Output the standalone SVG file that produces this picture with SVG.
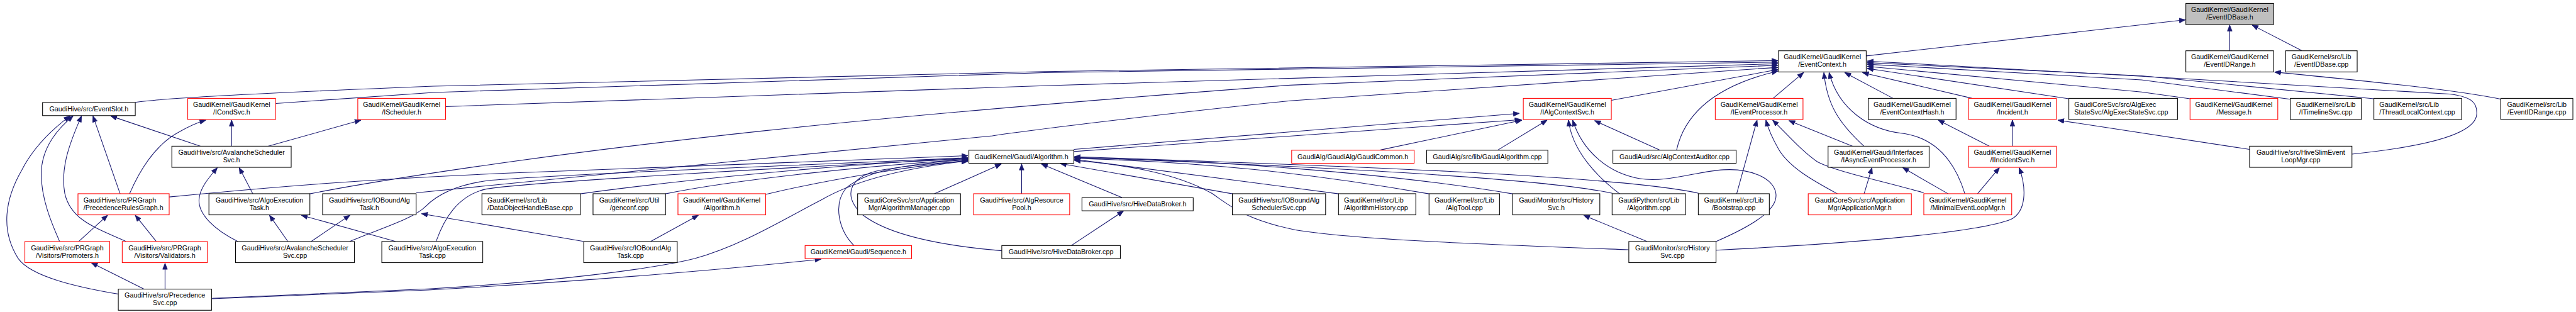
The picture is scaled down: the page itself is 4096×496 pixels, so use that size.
<svg xmlns="http://www.w3.org/2000/svg" width="4096" height="496" viewBox="0 0 4096 496">
<style>
.node rect{fill:#fff;stroke:#000;stroke-width:1.3}
.red rect{stroke:#f00}
.root rect{fill:#bfbfbf}
text{font-family:"Liberation Sans",Arial,Helvetica,sans-serif;font-size:13px;fill:#000;text-anchor:middle}
.L text{text-anchor:start}
.edges path{fill:none;stroke:#191970;stroke-width:1.3;marker-end:url(#ah)}
</style>
<defs>
<marker id="ah" markerUnits="userSpaceOnUse" markerWidth="13" markerHeight="11" refX="12" refY="5" orient="auto" viewBox="0 0 13 11"><path d="M0.5,0.5 L12,5 L0.5,9.5 z" fill="#191970" stroke="#191970" stroke-width="1"/></marker>
</defs>
<rect x="0" y="0" width="4096" height="496" fill="#fff"/>
<g transform="scale(0.8305)">
<g id="edges" class="edges">
<path d="M3573,107 L4184,38"/>
<path d="M4269,97 L4269,48"/>
<path d="M4407,97 L4312,48"/>
<path d="M4789,190 C4700,172 4560,158 4355,138"/>
<path d="M259,196 C300,189 500,178 830,165 L2000,137 L3404,116"/>
<path d="M528,198 L830,177 L2000,139 L3404,119"/>
<path d="M853,204 L2000,164 L3404,122"/>
<path d="M593,371 C700,350 1000,300 1466,250 C1700,225 2000,198 2470,163 L3404,125"/>
<path d="M797,369 L1900,260 C2000,245 2300,210 2470,193 L3404,129"/>
<path d="M3085,192 L3404,133"/>
<path d="M3210,287 C3225,220 3280,165 3404,136"/>
<path d="M3395,188 L3453,139"/>
<path d="M3569,280 C3520,235 3498,200 3492,139"/>
<path d="M3762,371 C3740,300 3700,262 3640,255 C3580,248 3520,210 3502,139"/>
<path d="M3624,188 L3532,139"/>
<path d="M3775,188 L3566,139"/>
<path d="M3961,189 L3575,131"/>
<path d="M4193,189 L4100,176 L3575,127"/>
<path d="M4385,190 L4100,153 L3575,123"/>
<path d="M4545,189 L4100,145 L3575,120"/>
<path d="M4503,295 C4600,285 4740,265 4742,218 C4743,195 4730,185 4690,180 L4100,146 L3575,117"/>
<path d="M384,280 L212,222"/>
<path d="M230,371 L178,222"/>
<path d="M241,462 C180,435 135,420 124,370 C115,320 135,270 156,222"/>
<path d="M114,462 C100,430 78,380 79,330 C80,290 100,255 140,222"/>
<path d="M227,563 C150,550 60,530 35,495 C0,440 10,380 42,325 C60,290 90,255 134,222"/>
<path d="M443.5,280 L443.5,230"/>
<path d="M248,371 C270,320 300,275 344,252 C365,240 380,234 394,230"/>
<path d="M513,280 L691,230"/>
<path d="M455,462 C410,440 380,410 381,383 C382,360 400,340 416,321"/>
<path d="M484,371 L458,321"/>
<path d="M151,462 L206,412"/>
<path d="M299,462 L259,412"/>
<path d="M275,553 L175,503"/>
<path d="M316,553 L316,504"/>
<path d="M551,462 L516,412"/>
<path d="M757,462 L577,412"/>
<path d="M596,462 L670,412"/>
<path d="M1117,462 L807,409"/>
<path d="M1246,462 L1337,412"/>
<path d="M405,572 L820,555 C1100,540 1400,515 1572,496"/>
<path d="M405,571 L820,553 C1050,540 1250,515 1330,495 C1420,470 1500,420 1572,383 C1620,355 1700,325 1853,308"/>
<path d="M1635,470 C1605,440 1595,390 1620,360 C1660,325 1750,312 1853,306"/>
<path d="M1918,480 C1800,470 1700,450 1650,410 C1610,370 1630,335 1690,325 C1750,315 1800,311 1853,309"/>
<path d="M670,462 C720,440 790,420 815,395 C840,370 880,352 940,345 C1100,332 1500,318 1853,302"/>
<path d="M835,462 C850,420 875,375 930,362 C1000,350 1500,320 1853,304"/>
<path d="M324,377 C500,360 700,342 1010,330 L1853,298"/>
<path d="M1111,371 C1300,345 1600,315 1853,303"/>
<path d="M1274,371 C1400,345 1650,318 1853,305"/>
<path d="M1466,372 C1600,340 1750,318 1853,307"/>
<path d="M1789,371 L1917,314"/>
<path d="M1956,371 L1956,314"/>
<path d="M2148,378 L1994,314"/>
<path d="M2360,371 L2030,313"/>
<path d="M2563,371 L2057,305"/>
<path d="M2736,371 C2500,330 2300,310 2057,303"/>
<path d="M2896,371 C2650,330 2300,305 2057,302"/>
<path d="M3087,370 C2950,340 2500,318 2057,301"/>
<path d="M3252,370 C3100,335 2500,315 2057,300"/>
<path d="M3118,478 C2900,470 2600,460 2480,440 C2380,420 2350,390 2320,370 C2250,330 2150,315 2057,307"/>
<path d="M2056,286 L2909,217"/>
<path d="M2056,290 L2912,229"/>
<path d="M2643,287 L2914,230"/>
<path d="M2868,287 L2962,230"/>
<path d="M3101,371 C3060,340 3010,290 3003,230"/>
<path d="M3286,462 C3360,430 3405,400 3400,370 C3395,340 3350,322 3300,325 C3250,328 3190,350 3140,342 C3080,332 3030,290 3011,230"/>
<path d="M3177,287 L3053,231"/>
<path d="M3325,371 L3364,230"/>
<path d="M3518,371 C3470,345 3425,320 3405,285 C3392,262 3385,245 3381,230"/>
<path d="M3683,369 C3600,345 3520,330 3480,310 C3450,290 3420,255 3394,230"/>
<path d="M3547,280 L3425,231"/>
<path d="M3569,371 L3584,321"/>
<path d="M3730,371 L3643,321"/>
<path d="M3786,371 L3828,321"/>
<path d="M3286,479 C3500,468 3780,448 3850,420 C3880,405 3880,360 3866,321"/>
<path d="M3853,280 L3853,230"/>
<path d="M3809,280 L3711,230"/>
<path d="M4307,286 L3940,230"/>
<path d="M3153,462 L3032,412"/>
<path d="M2051,470 L2151,404"/>
</g>
<g id="n_root" class="node root"><rect x="4185" y="6.5" width="168" height="40.5"/><text x="4269" y="23">GaudiKernel/GaudiKernel</text><text x="4269" y="37.5">/EventIDBase.h</text></g>
<g id="n_ctx" class="node"><rect x="3405" y="97.2" width="168" height="40.5"/><text x="3489" y="113.7">GaudiKernel/GaudiKernel</text><text x="3489" y="128.2">/EventContext.h</text></g>
<g id="n_rng" class="node"><rect x="4185" y="97.2" width="168" height="40.5"/><text x="4269" y="113.7">GaudiKernel/GaudiKernel</text><text x="4269" y="128.2">/EventIDRange.h</text></g>
<g id="n_basecpp" class="node"><rect x="4376" y="97.2" width="137" height="40.5"/><text x="4444.5" y="113.7">GaudiKernel/src/Lib</text><text x="4444.5" y="128.2">/EventIDBase.cpp</text></g>
<g id="n_slot" class="node"><rect x="81.5" y="196.3" width="177.5" height="25"/><text x="170.25" y="213.1">GaudiHive/src/EventSlot.h</text></g>
<g id="n_cond" class="node red"><rect x="359.5" y="188.3" width="168" height="40.5"/><text x="443.5" y="204.8">GaudiKernel/GaudiKernel</text><text x="443.5" y="219.3">/ICondSvc.h</text></g>
<g id="n_sched" class="node red"><rect x="685" y="188.3" width="168" height="40.5"/><text x="769" y="204.8">GaudiKernel/GaudiKernel</text><text x="769" y="219.3">/IScheduler.h</text></g>
<g id="n_ialgctx" class="node red"><rect x="2916.5" y="188.3" width="168.5" height="40.5"/><text x="3000.75" y="204.8">GaudiKernel/GaudiKernel</text><text x="3000.75" y="219.3">/IAlgContextSvc.h</text></g>
<g id="n_ievp" class="node red"><rect x="3284" y="188.3" width="168" height="40.5"/><text x="3368" y="204.8">GaudiKernel/GaudiKernel</text><text x="3368" y="219.3">/IEventProcessor.h</text></g>
<g id="n_ctxhash" class="node"><rect x="3577" y="188.3" width="168" height="40.5"/><text x="3661" y="204.8">GaudiKernel/GaudiKernel</text><text x="3661" y="219.3">/EventContextHash.h</text></g>
<g id="n_inc" class="node red"><rect x="3769" y="188.3" width="168" height="40.5"/><text x="3853" y="204.8">GaudiKernel/GaudiKernel</text><text x="3853" y="219.3">/Incident.h</text></g>
<g id="n_aess" class="node L"><rect x="3961" y="188.3" width="208" height="40.5"/><text x="3971.5" y="204.8">GaudiCoreSvc/src/AlgExec</text><text x="3971.5" y="219.3">StateSvc/AlgExecStateSvc.cpp</text></g>
<g id="n_msg" class="node red"><rect x="4193" y="188.3" width="168" height="40.5"/><text x="4277" y="204.8">GaudiKernel/GaudiKernel</text><text x="4277" y="219.3">/Message.h</text></g>
<g id="n_tl" class="node"><rect x="4385" y="188.3" width="136" height="40.5"/><text x="4453" y="204.8">GaudiKernel/src/Lib</text><text x="4453" y="219.3">/ITimelineSvc.cpp</text></g>
<g id="n_tlc" class="node L"><rect x="4545" y="188.3" width="168" height="40.5"/><text x="4555.5" y="204.8">GaudiKernel/src/Lib</text><text x="4555.5" y="219.3">/ThreadLocalContext.cpp</text></g>
<g id="n_rngcpp" class="node"><rect x="4788" y="188.3" width="138" height="40.5"/><text x="4857" y="204.8">GaudiKernel/src/Lib</text><text x="4857" y="219.3">/EventIDRange.cpp</text></g>
<g id="n_avsh" class="node"><rect x="329" y="279.8" width="228.5" height="40.5"/><text x="443.25" y="296.3">GaudiHive/src/AvalancheScheduler</text><text x="443.25" y="310.8">Svc.h</text></g>
<g id="n_galg" class="node"><rect x="1855" y="287.5" width="201" height="25"/><text x="1955.5" y="304.3">GaudiKernel/Gaudi/Algorithm.h</text></g>
<g id="n_gcommon" class="node red"><rect x="2473" y="287.5" width="234.5" height="25"/><text x="2590.25" y="304.3">GaudiAlg/GaudiAlg/GaudiCommon.h</text></g>
<g id="n_galgcpp" class="node"><rect x="2731.5" y="287.5" width="232" height="25"/><text x="2847.5" y="304.3">GaudiAlg/src/lib/GaudiAlgorithm.cpp</text></g>
<g id="n_aca" class="node"><rect x="3088" y="287.5" width="236" height="25"/><text x="3206" y="304.3">GaudiAud/src/AlgContextAuditor.cpp</text></g>
<g id="n_iaep" class="node"><rect x="3500" y="279.8" width="193.5" height="40.5"/><text x="3596.75" y="296.3">GaudiKernel/Gaudi/Interfaces</text><text x="3596.75" y="310.8">/IAsyncEventProcessor.h</text></g>
<g id="n_iis" class="node red"><rect x="3769" y="279.8" width="168" height="40.5"/><text x="3853" y="296.3">GaudiKernel/GaudiKernel</text><text x="3853" y="310.8">/IIncidentSvc.h</text></g>
<g id="n_hslim" class="node"><rect x="4307" y="279.8" width="196" height="40.5"/><text x="4405" y="296.3">GaudiHive/src/HiveSlimEvent</text><text x="4405" y="310.8">LoopMgr.cpp</text></g>
<g id="n_prg" class="node red L"><rect x="149.3" y="370.8" width="174.6" height="40.5"/><text x="159.8" y="387.3">GaudiHive/src/PRGraph</text><text x="159.8" y="401.8">/PrecedenceRulesGraph.h</text></g>
<g id="n_aeth" class="node"><rect x="400" y="370.8" width="193.3" height="40.5"/><text x="496.65" y="387.3">GaudiHive/src/AlgoExecution</text><text x="496.65" y="401.8">Task.h</text></g>
<g id="n_iobh" class="node"><rect x="617.7" y="370.8" width="179" height="40.5"/><text x="707.2" y="387.3">GaudiHive/src/IOBoundAlg</text><text x="707.2" y="401.8">Task.h</text></g>
<g id="n_dohb" class="node L"><rect x="922.7" y="370.8" width="188.4" height="40.5"/><text x="933.2" y="387.3">GaudiKernel/src/Lib</text><text x="933.2" y="401.8">/DataObjectHandleBase.cpp</text></g>
<g id="n_genconf" class="node"><rect x="1135.4" y="370.8" width="138.8" height="40.5"/><text x="1204.8" y="387.3">GaudiKernel/src/Util</text><text x="1204.8" y="401.8">/genconf.cpp</text></g>
<g id="n_gkalg" class="node red"><rect x="1298" y="370.8" width="168" height="40.5"/><text x="1382" y="387.3">GaudiKernel/GaudiKernel</text><text x="1382" y="401.8">/Algorithm.h</text></g>
<g id="n_algmgr" class="node"><rect x="1642" y="370.8" width="197" height="40.5"/><text x="1740.5" y="387.3">GaudiCoreSvc/src/Application</text><text x="1740.5" y="401.8">Mgr/AlgorithmManager.cpp</text></g>
<g id="n_arp" class="node red"><rect x="1864" y="370.8" width="184" height="40.5"/><text x="1956" y="387.3">GaudiHive/src/AlgResource</text><text x="1956" y="401.8">Pool.h</text></g>
<g id="n_hdbh" class="node"><rect x="2071.5" y="378.5" width="213" height="25"/><text x="2178" y="395.3">GaudiHive/src/HiveDataBroker.h</text></g>
<g id="n_iobsched" class="node"><rect x="2359.5" y="370.8" width="178.5" height="40.5"/><text x="2448.75" y="387.3">GaudiHive/src/IOBoundAlg</text><text x="2448.75" y="401.8">SchedulerSvc.cpp</text></g>
<g id="n_ahist" class="node L"><rect x="2562.7" y="370.8" width="148" height="40.5"/><text x="2573.2" y="387.3">GaudiKernel/src/Lib</text><text x="2573.2" y="401.8">/AlgorithmHistory.cpp</text></g>
<g id="n_algtool" class="node"><rect x="2736" y="370.8" width="135" height="40.5"/><text x="2803.5" y="387.3">GaudiKernel/src/Lib</text><text x="2803.5" y="401.8">/AlgTool.cpp</text></g>
<g id="n_hsvch" class="node"><rect x="2896" y="370.8" width="167" height="40.5"/><text x="2979.5" y="387.3">GaudiMonitor/src/History</text><text x="2979.5" y="401.8">Svc.h</text></g>
<g id="n_pyalg" class="node"><rect x="3086.5" y="370.8" width="140.5" height="40.5"/><text x="3156.75" y="387.3">GaudiPython/src/Lib</text><text x="3156.75" y="401.8">/Algorithm.cpp</text></g>
<g id="n_boot" class="node"><rect x="3251.5" y="370.8" width="136" height="40.5"/><text x="3319.5" y="387.3">GaudiKernel/src/Lib</text><text x="3319.5" y="401.8">/Bootstrap.cpp</text></g>
<g id="n_appmgr" class="node red"><rect x="3462" y="370.8" width="197.5" height="40.5"/><text x="3560.75" y="387.3">GaudiCoreSvc/src/Application</text><text x="3560.75" y="401.8">Mgr/ApplicationMgr.h</text></g>
<g id="n_melm" class="node red"><rect x="3683.3" y="370.8" width="168.3" height="40.5"/><text x="3767.45" y="387.3">GaudiKernel/GaudiKernel</text><text x="3767.45" y="401.8">/MinimalEventLoopMgr.h</text></g>
<g id="n_prom" class="node red"><rect x="47.6" y="462.3" width="162.5" height="40.5"/><text x="128.85" y="478.8">GaudiHive/src/PRGraph</text><text x="128.85" y="493.3">/Visitors/Promoters.h</text></g>
<g id="n_valid" class="node red"><rect x="234" y="462.3" width="163" height="40.5"/><text x="315.5" y="478.8">GaudiHive/src/PRGraph</text><text x="315.5" y="493.3">/Visitors/Validators.h</text></g>
<g id="n_avscpp" class="node"><rect x="451" y="462.3" width="227.6" height="40.5"/><text x="564.8" y="478.8">GaudiHive/src/AvalancheScheduler</text><text x="564.8" y="493.3">Svc.cpp</text></g>
<g id="n_aetcpp" class="node"><rect x="731" y="462.3" width="193.3" height="40.5"/><text x="827.65" y="478.8">GaudiHive/src/AlgoExecution</text><text x="827.65" y="493.3">Task.cpp</text></g>
<g id="n_iobcpp" class="node"><rect x="1117.6" y="462.3" width="179" height="40.5"/><text x="1207.1" y="478.8">GaudiHive/src/IOBoundAlg</text><text x="1207.1" y="493.3">Task.cpp</text></g>
<g id="n_seq" class="node red"><rect x="1541.4" y="470" width="204" height="25"/><text x="1643.4" y="486.8">GaudiKernel/Gaudi/Sequence.h</text></g>
<g id="n_hdbcpp" class="node"><rect x="1918" y="470" width="227" height="25"/><text x="2031.5" y="486.8">GaudiHive/src/HiveDataBroker.cpp</text></g>
<g id="n_hsvccpp" class="node"><rect x="3118.5" y="462.3" width="167" height="40.5"/><text x="3202" y="478.8">GaudiMonitor/src/History</text><text x="3202" y="493.3">Svc.cpp</text></g>
<g id="n_psvc" class="node"><rect x="226.5" y="553.4" width="178.5" height="40.5"/><text x="315.75" y="569.9">GaudiHive/src/Precedence</text><text x="315.75" y="584.4">Svc.cpp</text></g>
</g>
</svg>
